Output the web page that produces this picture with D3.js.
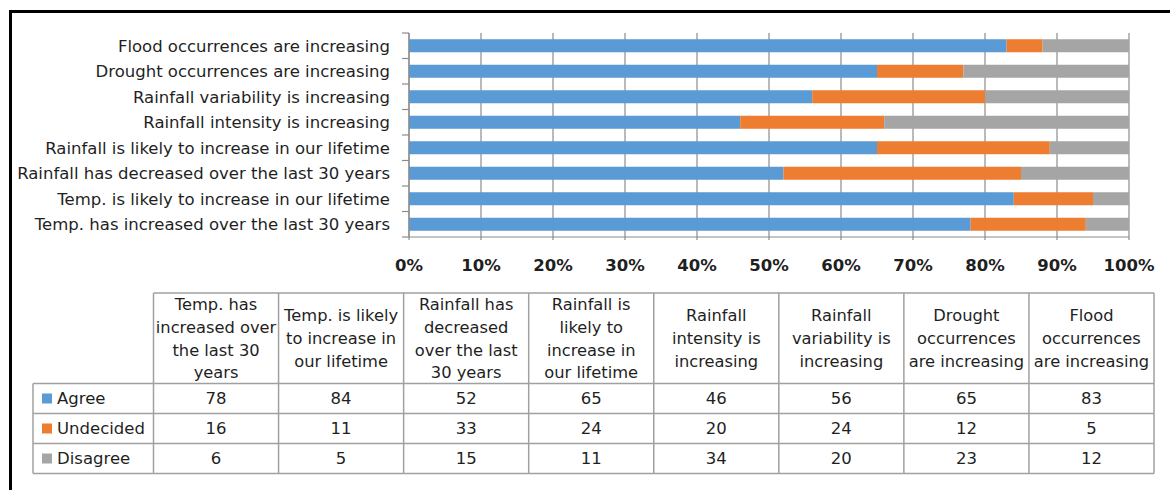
<!DOCTYPE html>
<html lang="en">
<head>
    <meta charset="UTF-8">
    <title>Climate perception stacked bars</title>
    <script src="https://d3js.org/d3.v7.min.js"></script>
    <style>
        body {
            margin: 0;
            background: #fff;
            font-family: "DejaVu Sans", sans-serif;
        }
        svg text {
            fill: #1f1f1f;
        }
    </style>
</head>
<body>
    <div id="chart"></div>
    <script>
        // statements, in table order (bottom bar first)
        const categories = [
            "Temp. has increased over the last 30 years",
            "Temp. is likely to increase in our lifetime",
            "Rainfall has decreased over the last 30 years",
            "Rainfall is likely to increase in our lifetime",
            "Rainfall intensity is increasing",
            "Rainfall variability is increasing",
            "Drought occurrences are increasing",
            "Flood occurrences are increasing"
        ];
        // wrapped versions used in the table header
        const headerLines = [
            ["Temp. has", "increased over", "the last 30", "years"],
            ["Temp. is likely", "to increase in", "our lifetime"],
            ["Rainfall has", "decreased", "over the last", "30 years"],
            ["Rainfall is", "likely to", "increase in", "our lifetime"],
            ["Rainfall", "intensity is", "increasing"],
            ["Rainfall", "variability is", "increasing"],
            ["Drought", "occurrences", "are increasing"],
            ["Flood", "occurrences", "are increasing"]
        ];
        const seriesNames = ["Agree", "Undecided", "Disagree"];
        const agree = [78, 84, 52, 65, 46, 56, 65, 83];
        const undecided = [16, 11, 33, 24, 20, 24, 12, 5];
        const disagree = [6, 5, 15, 11, 34, 20, 23, 12];
        const xTicks = [0, 10, 20, 30, 40, 50, 60, 70, 80, 90, 100];

        const colors = ["#5b9bd5", "#ed7d31", "#a5a5a5"];

        const W = 1170, H = 490;
        const svg = d3.select("#chart").append("svg")
            .attr("width", W)
            .attr("height", H);

        // black frame (top and left only)
        svg.append("line").attr("x1", 9).attr("x2", W).attr("y1", 11.5).attr("y2", 11.5)
            .attr("stroke", "#000").attr("stroke-width", 3);
        svg.append("line").attr("x1", 10.5).attr("x2", 10.5).attr("y1", 10).attr("y2", H)
            .attr("stroke", "#000").attr("stroke-width", 3);

        // ---------- bar chart ----------
        const plot = { left: 409, right: 1129, top: 33, bottom: 237 };

        const x = d3.scaleLinear().domain([0, 100]).range([plot.left, plot.right]);
        const y = d3.scaleBand()
            .domain(categories.slice().reverse())
            .range([plot.top, plot.bottom])
            .paddingInner(0.49)
            .paddingOuter(0.245);

        const stackData = categories.map((c, i) => ({
            cat: c, Agree: agree[i], Undecided: undecided[i], Disagree: disagree[i]
        }));
        const stacked = d3.stack().keys(seriesNames)(stackData);

        // gridlines
        svg.append("g")
            .selectAll("line")
            .data(xTicks)
            .join("line")
            .attr("x1", d => x(d)).attr("x2", d => x(d))
            .attr("y1", plot.top).attr("y2", plot.bottom + 3)
            .attr("stroke", "#8c8c8c")
            .attr("stroke-width", 1.2);

        // bars
        svg.append("g")
            .selectAll("g")
            .data(stacked)
            .join("g")
            .attr("fill", (d, i) => colors[i])
            .selectAll("rect")
            .data(d => d)
            .join("rect")
            .attr("x", d => x(d[0]))
            .attr("y", d => y(d.data.cat))
            .attr("width", d => x(d[1]) - x(d[0]))
            .attr("height", y.bandwidth());

        // left axis
        const band = (plot.bottom - plot.top) / categories.length;
        const yAxis = svg.append("g").attr("class", "y-axis");
        yAxis.append("line")
            .attr("x1", plot.left).attr("x2", plot.left)
            .attr("y1", plot.top).attr("y2", plot.bottom)
            .attr("stroke", "#8c8c8c").attr("stroke-width", 1.2);
        yAxis.selectAll(".tick")
            .data(d3.range(categories.length + 1))
            .join("line")
            .attr("x1", plot.left - 7).attr("x2", plot.left)
            .attr("y1", i => plot.top + i * band).attr("y2", i => plot.top + i * band)
            .attr("stroke", "#8c8c8c").attr("stroke-width", 1.2);
        yAxis.selectAll("text")
            .data(categories)
            .join("text")
            .attr("x", plot.left - 19)
            .attr("y", d => y(d) + y.bandwidth() / 2)
            .attr("dy", "0.36em")
            .attr("text-anchor", "end")
            .style("font-size", "16.5px")
            .text(d => d);

        // bottom axis
        svg.append("line")
            .attr("x1", plot.left).attr("x2", plot.right)
            .attr("y1", plot.bottom).attr("y2", plot.bottom)
            .attr("stroke", "#8c8c8c").attr("stroke-width", 1.2);
        svg.append("g")
            .selectAll("text")
            .data(xTicks)
            .join("text")
            .attr("x", d => x(d))
            .attr("y", 271)
            .attr("text-anchor", "middle")
            .style("font-size", "16.5px")
            .style("font-weight", "bold")
            .text(d => d + "%");

        // ---------- data table ----------
        const tbl = { left: 33, firstCol: 153.5, right: 1154, top: 293, headBottom: 383.5, rowH: 30 };
        const col = d3.scaleBand().domain(categories).range([tbl.firstCol, tbl.right]);
        const border = "#a0a0a0";
        const t = svg.append("g").attr("class", "table");
        const tableBottom = tbl.headBottom + tbl.rowH * 3;

        // horizontal lines
        t.append("line").attr("x1", tbl.firstCol).attr("x2", tbl.right)
            .attr("y1", tbl.top).attr("y2", tbl.top);
        d3.range(4).forEach(i => {
            t.append("line").attr("x1", tbl.left).attr("x2", tbl.right)
                .attr("y1", tbl.headBottom + i * tbl.rowH).attr("y2", tbl.headBottom + i * tbl.rowH);
        });
        // vertical lines
        t.append("line").attr("x1", tbl.left).attr("x2", tbl.left)
            .attr("y1", tbl.headBottom).attr("y2", tableBottom);
        categories.forEach(c => {
            t.append("line").attr("x1", col(c)).attr("x2", col(c))
                .attr("y1", tbl.top).attr("y2", tableBottom);
        });
        t.append("line").attr("x1", tbl.right).attr("x2", tbl.right)
            .attr("y1", tbl.top).attr("y2", tableBottom);
        t.selectAll("line").attr("stroke", border).attr("stroke-width", 1.5);

        // header text
        const lineH = 22.8;
        const headMid = (tbl.top + tbl.headBottom) / 2;
        categories.forEach((c, i) => {
            const lines = headerLines[i];
            const txt = t.append("text")
                .attr("text-anchor", "middle")
                .style("font-size", "16.3px");
            lines.forEach((ln, k) => {
                txt.append("tspan")
                    .attr("x", col(c) + col.bandwidth() / 2)
                    .attr("y", headMid + (k - (lines.length - 1) / 2) * lineH)
                    .attr("dy", "0.36em")
                    .text(ln);
            });
        });

        // series rows
        const seriesVals = [agree, undecided, disagree];
        seriesNames.forEach((s, j) => {
            const cy = tbl.headBottom + j * tbl.rowH + tbl.rowH / 2;
            t.append("rect")
                .attr("x", 42).attr("y", cy - 5)
                .attr("width", 10).attr("height", 10)
                .attr("fill", colors[j]);
            t.append("text")
                .attr("x", 57).attr("y", cy).attr("dy", "0.36em")
                .style("font-size", "16.5px")
                .text(s);
            t.append("g")
                .selectAll("text")
                .data(categories)
                .join("text")
                .attr("x", d => col(d) + col.bandwidth() / 2)
                .attr("y", cy).attr("dy", "0.36em")
                .attr("text-anchor", "middle")
                .style("font-size", "16.5px")
                .text((d, i) => seriesVals[j][i]);
        });
    </script>
</body>
</html>
